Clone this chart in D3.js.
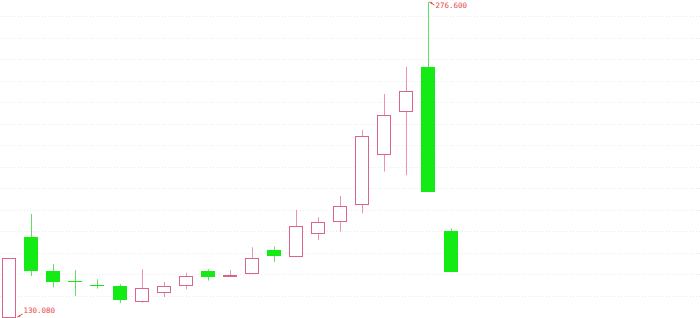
<!DOCTYPE html>
<html>
<head>
<meta charset="utf-8">
<script src="https://cdn.jsdelivr.net/npm/d3@7"></script>
<style>
  html, body { margin: 0; padding: 0; background: #fff; }
  svg { display: block; }
</style>
</head>
<body>
<div id="chart"></div>
<script>
// candle data
const days  = d3.range(1, 22);
const open  = [130.08, 167.2, 151.6, 146.8, 144.9, 144.6, 137.7, 141.6, 144.6, 151.6, 149.6, 150.6, 161.1, 158.3, 168.8, 174.9, 183.0, 205.6, 226.0, 246.5, 170.2];
const close = [157.4, 151.6, 146.4, 146.6, 144.7, 138.2, 143.7, 144.4, 149.0, 148.6, 149.8, 157.4, 158.5, 172.4, 174.1, 181.7, 214.4, 223.9, 235.1, 188.2, 150.9];
const high  = [157.4, 178.0, 154.7, 151.9, 147.6, 145.3, 152.3, 146.4, 150.7, 152.3, 151.9, 162.5, 162.8, 179.9, 176.5, 186.4, 217.1, 233.8, 246.5, 276.6, 171.3];
const low   = [130.08, 149.2, 143.9, 139.9, 143.3, 136.5, 136.7, 139.4, 143.0, 147.0, 149.2, 150.0, 155.7, 158.3, 165.9, 169.8, 178.3, 197.7, 196.0, 188.2, 150.9];
const gridValues = d3.range(140, 271, 10);

const width = 700, height = 318;
const candleW = 14;

const data = days.map((d, i) => ({ day: d, o: open[i], c: close[i], h: high[i], l: low[i] }));

const svg = d3.select('#chart').append('svg')
  .attr('width', width)
  .attr('height', height);

const x = d3.scaleLinear()
  .domain([1, 21])
  .range([9.2, 450.5]);

const y = d3.scaleLinear()
  .domain([130.08, 276.6])
  .range([317, 2]);

// grid
svg.append('g').selectAll('line')
  .data(gridValues)
  .enter()
  .append('line')
  .attr('x1', 0)
  .attr('x2', width)
  .attr('y1', d => Math.round(y(d)) + 0.5)
  .attr('y2', d => Math.round(y(d)) + 0.5)
  .attr('stroke', '#ebebeb')
  .attr('stroke-dasharray', '1,2');

const up = d => d.c >= d.o;

const candles = svg.append('g').selectAll('g')
  .data(data)
  .enter()
  .append('g');

// wicks
candles.append('line')
  .attr('x1', d => Math.round(x(d.day)) + 0.5)
  .attr('x2', d => Math.round(x(d.day)) + 0.5)
  .attr('y1', d => y(d.h))
  .attr('y2', d => y(d.l))
  .attr('stroke', d => up(d) ? '#ec93ae' : '#66dd66')
  .attr('stroke-width', 1);

// bodies
candles.append('rect')
  .attr('x', d => up(d) ? Math.round(x(d.day) - candleW / 2) + 0.5 : Math.round(x(d.day) - candleW / 2))
  .attr('y', d => {
    const t = y(Math.max(d.o, d.c));
    return up(d) ? Math.round(t) + 0.5 : Math.round(t);
  })
  .attr('width', d => up(d) ? candleW - 1 : candleW)
  .attr('height', d => Math.max(1, Math.round(Math.abs(y(d.o) - y(d.c)))))
  .attr('fill', d => up(d) ? '#fff' : '#14eb14')
  .attr('stroke', d => up(d) ? '#d9668a' : 'none')
  .attr('stroke-width', 1);

// max / min markers
const hiIdx = d3.maxIndex(high);
const loIdx = d3.minIndex(low);

function marker(px, py, label, dy) {
  const g = svg.append('g');
  g.append('line')
    .attr('x1', px + 1).attr('y1', py)
    .attr('x2', px + 6).attr('y2', py + dy * 3)
    .attr('stroke', '#e84848');
  g.append('path')
    .attr('d', `M${px + 1},${py} l3,${dy * 0.2} l-1.2,${dy * 1.8} z`)
    .attr('fill', '#e84848');
  g.append('text')
    .attr('x', px + 7)
    .attr('y', py + dy * 3 + (dy > 0 ? 3 : -1))
    .attr('font-family', 'DejaVu Sans Mono, monospace')
    .attr('font-size', 7.5)
    .attr('fill', '#e84848')
    .text(label);
}

marker(Math.round(x(days[hiIdx])) + 0.5, y(high[hiIdx]), high[hiIdx].toFixed(3), 1);
marker(Math.round(x(days[loIdx]) + candleW / 2) + 0.5, y(low[loIdx]), low[loIdx].toFixed(3), -1);
</script>
</body>
</html>
